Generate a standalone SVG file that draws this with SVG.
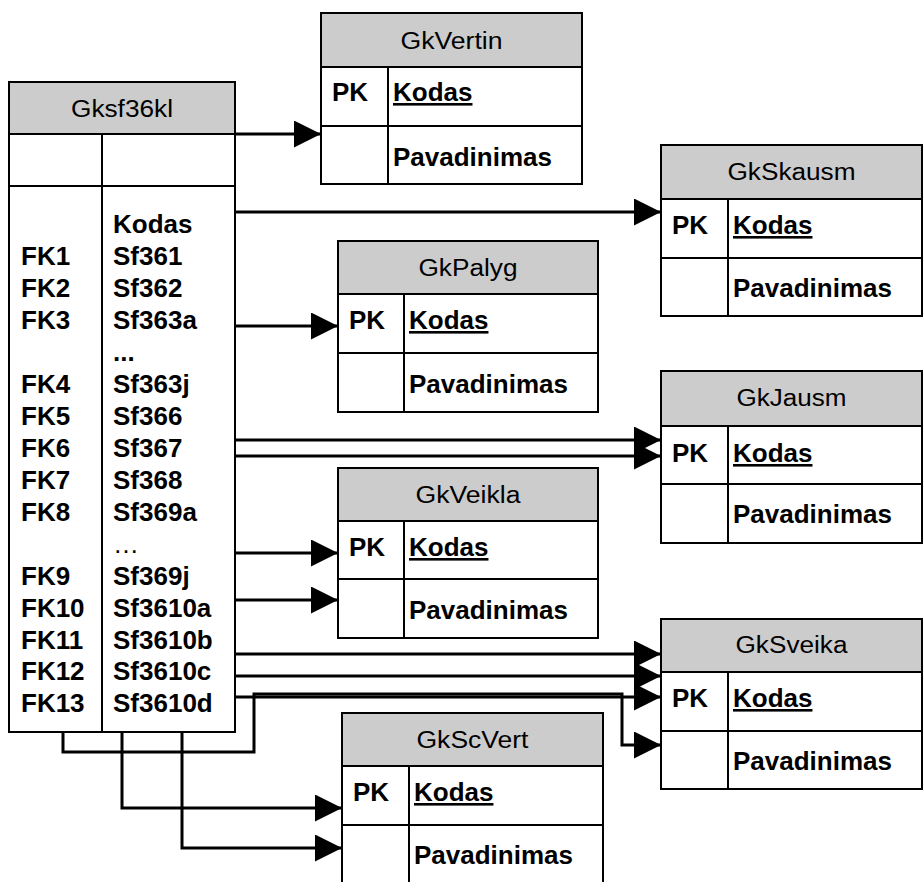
<svg xmlns="http://www.w3.org/2000/svg" width="923" height="882" viewBox="0 0 923 882">
  <style>
    .box { fill: #ffffff; stroke: #000000; stroke-width: 2; }
    .head { fill: #cccccc; stroke: #000000; stroke-width: 2; }
    .grid { stroke: #000000; stroke-width: 2; fill: none; }
    .title { font-family: "Liberation Sans", Arial, sans-serif; font-size: 23.5px; fill: #000000; text-anchor: middle; }
    .fld { font-family: "Liberation Sans", Arial, sans-serif; font-size: 26px; font-weight: bold; fill: #000000; }
    .key { text-decoration: underline; }
    .thin { font-weight: normal; }
    .link { stroke: #000000; stroke-width: 3; fill: none; marker-end: url(#arrow); }
  </style>
  <defs>
    <marker id="arrow" markerUnits="userSpaceOnUse" markerWidth="28" markerHeight="28" refX="27" refY="13.5" orient="auto">
      <path d="M0,0 L27,13.5 L0,27 Z" fill="#000000"/>
    </marker>
  </defs>

  <rect width="923" height="882" fill="#ffffff"/>

  <!-- connectors -->
  <g id="connectors">
    <path class="link" d="M235,134 H321"/>
    <path class="link" d="M235,212 H661"/>
    <path class="link" d="M235,326 H338"/>
    <path class="link" d="M235,440 H661"/>
    <path class="link" d="M235,456 H661"/>
    <path class="link" d="M235,553 H338"/>
    <path class="link" d="M235,600 H338"/>
    <path class="link" d="M235,654 H661"/>
    <path class="link" d="M235,676 H661"/>
    <path class="link" d="M235,697 H661"/>
    <path class="link" d="M63,732 V752 H254 V694 H622 V745 H661"/>
    <path class="link" d="M122,732 V808 H342"/>
    <path class="link" d="M182,732 V848 H342"/>
  </g>

  <!-- main table -->
  <g id="Gksf36kl">
    <rect class="box" x="9" y="82" width="226" height="650"/>
    <rect class="head" x="9" y="82" width="226" height="52"/>
    <path class="grid" d="M9,186 H235 M102,134 V732"/>
    <text class="title" x="122" y="117" textLength="102" lengthAdjust="spacingAndGlyphs">Gksf36kl</text>
    <g class="fld">
      <text x="113" y="233">Kodas</text>
      <text x="21" y="265">FK1</text><text x="113" y="265">Sf361</text>
      <text x="21" y="297">FK2</text><text x="113" y="297">Sf362</text>
      <text x="21" y="329">FK3</text><text x="113" y="329">Sf363a</text>
      <text x="113" y="361">...</text>
      <text x="21" y="393">FK4</text><text x="113" y="393">Sf363j</text>
      <text x="21" y="425">FK5</text><text x="113" y="425">Sf366</text>
      <text x="21" y="457">FK6</text><text x="113" y="457">Sf367</text>
      <text x="21" y="489">FK7</text><text x="113" y="489">Sf368</text>
      <text x="21" y="521">FK8</text><text x="113" y="521">Sf369a</text>
      <text class="thin" x="113" y="553">…</text>
      <text x="21" y="585">FK9</text><text x="113" y="585">Sf369j</text>
      <text x="21" y="617">FK10</text><text x="113" y="617">Sf3610a</text>
      <text x="21" y="649">FK11</text><text x="113" y="649">Sf3610b</text>
      <text x="21" y="680">FK12</text><text x="113" y="680">Sf3610c</text>
      <text x="21" y="712">FK13</text><text x="113" y="712">Sf3610d</text>
    </g>
  </g>

  <!-- lookup tables -->
  <g id="GkVertin" transform="translate(321,13)">
    <rect class="box" width="261" height="171"/>
    <rect class="head" width="261" height="54"/>
    <path class="grid" d="M0,113 H261 M67,54 V171"/>
    <text class="title" x="130.5" y="36" textLength="102" lengthAdjust="spacingAndGlyphs">GkVertin</text>
    <text class="fld" x="11" y="88">PK</text>
    <text class="fld key" x="72" y="88">Kodas</text>
    <text class="fld" x="72" y="153">Pavadinimas</text>
  </g>

  <g id="GkSkausm" transform="translate(661,145)">
    <rect class="box" width="261" height="171"/>
    <rect class="head" width="261" height="54"/>
    <path class="grid" d="M0,113 H261 M67,54 V171"/>
    <text class="title" x="130.5" y="35" textLength="128" lengthAdjust="spacingAndGlyphs">GkSkausm</text>
    <text class="fld" x="11" y="89">PK</text>
    <text class="fld key" x="72" y="89">Kodas</text>
    <text class="fld" x="72" y="152">Pavadinimas</text>
  </g>

  <g id="GkPalyg" transform="translate(338,241)">
    <rect class="box" width="260" height="171"/>
    <rect class="head" width="260" height="53"/>
    <path class="grid" d="M0,112 H260 M66,53 V171"/>
    <text class="title" x="130" y="35" textLength="99" lengthAdjust="spacingAndGlyphs">GkPalyg</text>
    <text class="fld" x="11" y="88">PK</text>
    <text class="fld key" x="71" y="88">Kodas</text>
    <text class="fld" x="71" y="152">Pavadinimas</text>
  </g>

  <g id="GkJausm" transform="translate(661,371)">
    <rect class="box" width="261" height="172"/>
    <rect class="head" width="261" height="55"/>
    <path class="grid" d="M0,113 H261 M67,55 V172"/>
    <text class="title" x="130.5" y="35" textLength="110" lengthAdjust="spacingAndGlyphs">GkJausm</text>
    <text class="fld" x="11" y="91">PK</text>
    <text class="fld key" x="72" y="91">Kodas</text>
    <text class="fld" x="72" y="152">Pavadinimas</text>
  </g>

  <g id="GkVeikla" transform="translate(338,468)">
    <rect class="box" width="260" height="170"/>
    <rect class="head" width="260" height="53"/>
    <path class="grid" d="M0,111 H260 M66,53 V170"/>
    <text class="title" x="130" y="35" textLength="105" lengthAdjust="spacingAndGlyphs">GkVeikla</text>
    <text class="fld" x="11" y="88">PK</text>
    <text class="fld key" x="71" y="88">Kodas</text>
    <text class="fld" x="71" y="151">Pavadinimas</text>
  </g>

  <g id="GkSveika" transform="translate(661,619)">
    <rect class="box" width="261" height="170"/>
    <rect class="head" width="261" height="53"/>
    <path class="grid" d="M0,112 H261 M67,53 V170"/>
    <text class="title" x="130.5" y="34" textLength="112" lengthAdjust="spacingAndGlyphs">GkSveika</text>
    <text class="fld" x="11" y="88">PK</text>
    <text class="fld key" x="72" y="88">Kodas</text>
    <text class="fld" x="72" y="151">Pavadinimas</text>
  </g>

  <g id="GkScVert" transform="translate(342,713)">
    <rect class="box" width="261" height="171"/>
    <rect class="head" width="261" height="53"/>
    <path class="grid" d="M0,112 H261 M67,53 V171"/>
    <text class="title" x="130.5" y="35" textLength="112" lengthAdjust="spacingAndGlyphs">GkScVert</text>
    <text class="fld" x="11" y="88">PK</text>
    <text class="fld key" x="72" y="88">Kodas</text>
    <text class="fld" x="72" y="151">Pavadinimas</text>
  </g>
</svg>
